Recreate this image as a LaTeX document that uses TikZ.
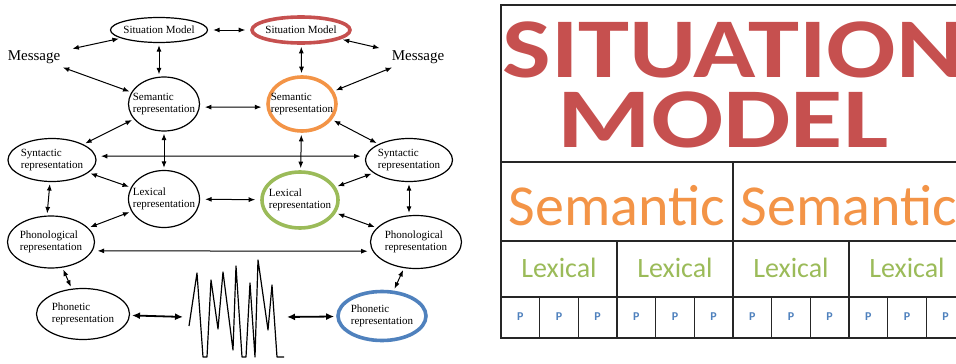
\documentclass[tikz,border=0pt]{standalone}
\usepackage{fontspec}
\setmainfont{Liberation Serif}
\newfontfamily\calibri{Carlito}
\usepackage{tikz}
\usepackage{xcolor}
\usetikzlibrary{positioning,shapes,arrows.meta}
\definecolor{sitred}{HTML}{C6504F}
\definecolor{semorange}{HTML}{F39447}
\definecolor{lexgreen}{HTML}{9BBB59}
\definecolor{phblue}{HTML}{4F81BD}

\begin{document}
\begin{tikzpicture}[x=1pt,y=-1pt]%[scale=2.5]
\useasboundingbox (0,0) rectangle (956,364);
\clip (0,0) rectangle (956,364);
\tikzstyle{every node}=[font=\fontsize{11}{12.5}\selectfont,align=left,inner sep=1pt]
\tikzstyle{rep}=[draw,shape=ellipse,line width=1.2pt,inner xsep=-12pt,inner ysep=0pt]
\tikzstyle{hot}=[rep,line width=3.6pt]
\tikzstyle{link}=[{Latex[length=6.5pt,width=5pt]}-{Latex[length=6.5pt,width=5pt]},line width=1pt,shorten <=2pt,shorten >=2pt]
\tikzstyle{grid}=[line width=1.5pt,black!85]

\draw node[rep,minimum width=97,minimum height=25] (sit1) at (159,30) {Situation Model};
\draw node[hot,draw=sitred,minimum width=98,minimum height=26] (sit2) at (301,30) {Situation Model};
\draw node[font=\fontsize{15}{17}\selectfont,inner xsep=10pt,inner ysep=3pt] (msg1) at (34,57) {Message};
\draw node[font=\fontsize{15}{17}\selectfont,inner xsep=10pt,inner ysep=3pt] (msg2) at (418,57) {Message};
\draw node[rep,minimum width=71,minimum height=54] (sem1) at (164,104) {Semantic\\representation};
\draw node[hot,draw=semorange,minimum width=68,minimum height=54] (sem2) at (302,104) {Semantic\\representation};
\draw node[rep,minimum width=88,minimum height=43] (syn1) at (52,160) {Syntactic\\representation};
\draw node[rep,minimum width=87,minimum height=43] (syn2) at (409,160) {Syntactic\\representation};
\draw node[rep,minimum width=71,minimum height=57] (lex1) at (164,199) {Lexical\\representation};
\draw node[hot,draw=lexgreen,minimum width=76,minimum height=56] (lex2) at (300,200) {Lexical\\representation};
\draw node[rep,minimum width=87,minimum height=52] (pho1) at (51,242) {Phonological\\representation};
\draw node[rep,minimum width=91,minimum height=53] (pho2) at (416,242) {Phonological\\representation};
\draw node[rep,minimum width=93,minimum height=51] (pht1) at (83,314) {Phonetic\\representation};
\draw node[hot,draw=phblue,minimum width=88,minimum height=49] (pht2) at (382,316) {Phonetic\\representation};

\coordinate (wl) at (185,317);
\coordinate (wr) at (285,317);
\coordinate (s1b) at (sit1.south |- sem1.north);
\coordinate (y1b) at ([xshift=-5pt]syn1.south |- pho1.north);
\coordinate (y2b) at (syn2.south |- pho2.north);
\draw[line width=1.2pt,line join=round] (189,326) -- (197,273) -- (203,357) -- (207,357) -- (211,280)
  -- (218,329) -- (223,272) -- (233,350) -- (236,266) -- (242,357) -- (246,357) -- (250,283)
  -- (255,357) -- (258,260) -- (268,330) -- (272,285) -- (277,357) -- (284,357);

\foreach \a/\b in {sit1/msg1,msg1/sem1,sit2/msg2,msg2/sem2,sit1.south/s1b,sit2/sem2,
  sem1/syn1,sem2/syn2,sem1/lex1,sem2/lex2,syn1/lex1,lex2/syn2,lex1/pho1,lex2/pho2,
  y1b/syn1,y2b/syn2,pho1/pht1,pho2/pht2}
  \draw[link] (\a) -- (\b);
\foreach \a/\b in {sit1/sit2,sem1.-5/sem2.185,lex1/lex2,syn1.5/syn2.175,pho1.-12/pho2.192}
  \draw[link,shorten <=5pt,shorten >=5pt] (\a) -- (\b);
\foreach \a/\b in {pht1/wl,wr/pht2}
  \draw[link,line width=1.8pt,{Latex[length=8pt,width=7pt]}-{Latex[length=8pt,width=7pt]}] (\a) -- (\b);

\draw[grid] (501,5) rectangle (965,338);
\draw[grid] (501,162) -- (965,162) (501,241) -- (965,241) (501,297) -- (965,297) (733,162) -- (733,338);
\draw node[font=\calibri\bfseries\fontsize{85}{70}\selectfont,text=sitred,align=center,inner sep=0pt] (sitm) at (733,85)
  {\scalebox{1.21}[1]{SITUATION}\\\scalebox{1.26}[1]{MODEL}\hspace*{20pt}};
\draw node[font=\calibri\fontsize{58}{60}\selectfont,text=semorange,anchor=base] (sema) at (617,225) {Semantic};
\draw node[font=\calibri\fontsize{58}{60}\selectfont,text=semorange,anchor=base] (semb) at (849,225) {Semantic};
\foreach \i in {0,...,3} {
  \draw[grid] (617+116*\i,241) -- (617+116*\i,338);
  \draw node[font=\calibri\fontsize{28}{30}\selectfont,text=lexgreen,anchor=base] (lx\i) at (559+116*\i,277) {Lexical};
}
\foreach \j in {0,...,11} {
  \draw[grid] (539.67+38.67*\j,297) -- (539.67+38.67*\j,338);
  \draw node[font=\calibri\bfseries\fontsize{12}{13}\selectfont,text=phblue,anchor=base] (p\j) at (520.3+38.67*\j,320) {P};
}
\end{tikzpicture}
\end{document}
